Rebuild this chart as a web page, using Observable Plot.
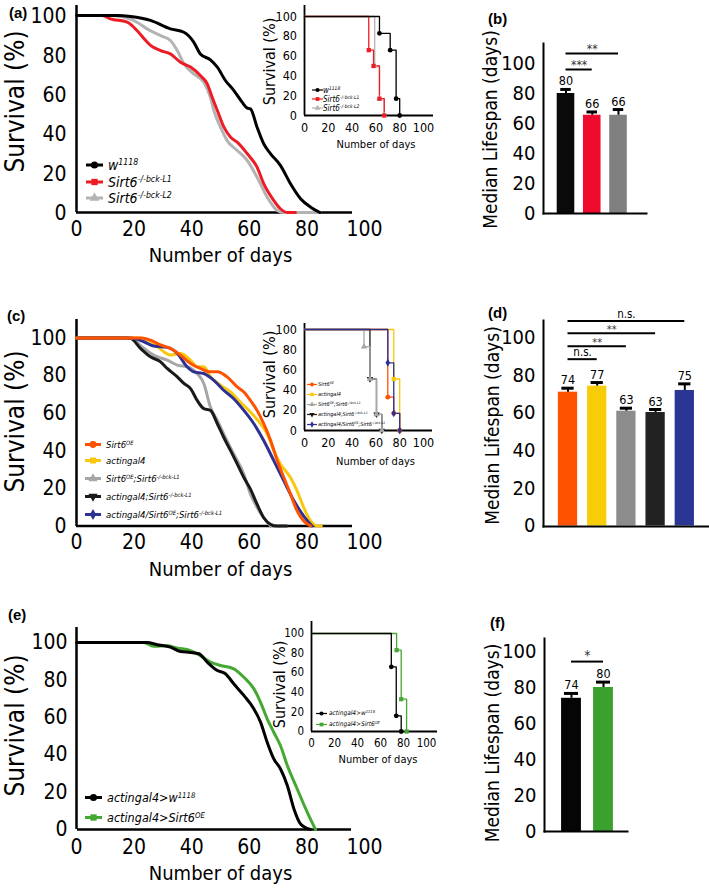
<!DOCTYPE html>
<html><head><meta charset="utf-8">
<script src="https://cdn.jsdelivr.net/npm/d3@7"></script>
<script src="https://cdn.jsdelivr.net/npm/@observablehq/plot@0.6"></script>
<style>
body{margin:0;background:#fff;}
#fig{position:relative;width:709px;height:890px;overflow:hidden;background:#fff;font-family:"DejaVu Sans Condensed","Liberation Sans Narrow",sans-serif;}
.plab{position:absolute;font-family:"Liberation Sans",Arial,sans-serif;font-weight:bold;font-size:15px;line-height:15px;}
.legrow{position:absolute;display:flex;align-items:center;font-style:italic;white-space:nowrap;}
.legrow sup{font-size:0.62em;vertical-align:0.55em;line-height:0;}
</style></head><body><div id="fig"></div>
<script>
// ---------- data ----------
const xTicks = [0, 20, 40, 60, 80, 100];
const yTicks = [0, 20, 40, 60, 80, 100];

// (a) survival curves [day, % survival]
const a_w1118 = [[0,100],[14,100],[18.8,99.5],[25.7,97.5],[32.6,93.2],[37.3,91.5],[40.7,86.5],[43,80.5],[46.5,77.5],[48.9,73.8],[51.7,67],[54.6,62],[57.5,56],[59.3,53],[60.4,52.6],[62.7,43.3],[65,34.9],[67.4,29.8],[70.8,23.9],[74.3,14.6],[77.8,7],[81.3,2.7],[84.5,0]];
const a_L1 = [[0,100],[9,100],[11.8,98.3],[17.6,96.6],[21,92.4],[24,87.3],[25.7,84.8],[29.2,82.2],[32.6,80.5],[36.1,76.3],[39.6,73.8],[43,69.5],[45.4,65.3],[47.1,58.5],[48.9,51.8],[51.2,43.3],[53.5,38.2],[55.8,35.7],[59.3,29.8],[62.7,23],[65,14.6],[68.5,6.1],[70.8,1.9],[73.2,0],[76,0]];
const a_L2 = [[0,100],[11.8,100],[16.4,99.2],[21,96.6],[24.5,93.2],[29.2,89.8],[32.6,87.3],[35,82.2],[37.3,75.5],[40.7,70.4],[44.2,66.1],[46.5,58.5],[47.7,51.8],[50,43.3],[52.3,36.5],[55.8,31.5],[59.3,26.4],[62.7,17.9],[66.2,7.8],[69.7,1],[72,0],[84.5,0]];
const a_names = ["<i>w</i><sup>1118</sup>", "Sirt6<sup>-/-bck-L1</sup>", "Sirt6<sup>-/-bck-L2</sup>"];
const a_colors = ["#000000", "#ed1c24", "#b3b3b3"];
// (a) inset, Kaplan-Meier steps
const ia_w1118 = [[0,100],[63,83],[72,66],[77,17],[80,0]];
const ia_L1 = [[0,100],[54,66],[58,50],[63,17],[67,0]];
const ia_L2 = [[0,100],[59,50],[63,17],[67,0]];

// (b) median lifespan
const b_median = [80, 65.5, 65.5];
const b_sem = [2.7, 2.2, 3.8];
const b_text = ["80", "66", "66"];
const b_colors = ["#0a0a0a", "#f00a2e", "#808080"];
const b_sigFrom = [0, 0], b_sigTo = [1, 2], b_sigLevel = [96, 106.7], b_sigText = ["***", "**"];

// (c) survival curves
const c_OE = [[0,100],[20,100],[22.2,100],[25.7,98.9],[29.2,96.3],[32.6,94.5],[36.1,90.9],[39.6,86.5],[43,83.8],[46.5,82],[48.9,82],[52.3,79.3],[55.8,74],[58.1,71.3],[60.4,66.8],[62.7,61.5],[65,54.4],[67.4,45.5],[69.7,34.8],[72,25.8],[74.3,17],[76.6,8],[78.9,2.7],[81.3,0]];
const c_gal4 = [[0,100],[21,100],[22.2,100],[26.8,97.2],[30.3,92.7],[32.6,90.9],[36.1,91.8],[39.6,88.2],[41.9,84.7],[44.2,84.7],[46.5,79.3],[50,74.9],[53.5,71.3],[56.9,65.9],[60.4,60.6],[63.9,54.4],[66.2,49],[68.5,40.1],[70.8,33],[74.3,25.8],[76.6,18.7],[78.9,9.8],[81.3,2.7],[83.6,0],[85,0]];
const c_OEko = [[0,100],[17,100],[18.8,99.8],[23.4,94.5],[26.8,90.9],[31.5,88.2],[35,85.6],[38.4,84.7],[41.9,81.1],[44.2,75.8],[46.5,63.3],[48.9,56.1],[51.1,49],[54.6,38.3],[58.1,27.6],[60.4,17],[62.7,9.8],[65,4.4],[67.4,0]];
const c_gal4ko = [[0,100],[17,100],[18.8,99.8],[22.2,94.5],[25.7,90],[29.2,87.3],[31.5,83.8],[35,79.3],[37.3,75.8],[39.6,73.1],[41.9,66.8],[44.2,62.4],[46.5,61.5],[48.9,54.4],[51.1,47.2],[53.5,40.1],[55.8,33],[58.1,25.8],[60.4,19.6],[62.7,11.6],[65,4.4],[67.4,0.9],[69.7,0],[73,0]];
const c_rescue = [[0,100],[18.8,100],[23.4,98],[26.8,95.7],[31.5,95],[35,91.8],[38.4,84.7],[40.7,82],[44.2,81.1],[47.7,77.5],[51.1,72.2],[54.6,67.7],[58.1,61.5],[61.6,54.4],[65,45.5],[68.5,34.8],[72,24],[75.5,13.4],[78.9,5.3],[81.8,0]];
const c_names = ["Sirt6<sup>OE</sup>", "actingal4", "Sirt6<sup>OE</sup>;Sirt6<sup>-/-bck-L1</sup>", "actingal4;Sirt6<sup>-/-bck-L1</sup>", "actingal4/Sirt6<sup>OE</sup>;Sirt6<sup>-/-bck-L1</sup>"];
const c_colors = ["#ff5200", "#f9c80e", "#a6a6a6", "#1a1a1a", "#2e3192"];
// (c) inset
const ic_OE = [[0,100],[70,33],[75,17],[80,0]];
const ic_gal4 = [[0,100],[75,51],[80,0]];
const ic_OEko = [[0,100],[50,83],[55,51],[60.5,16],[65,0]];
const ic_gal4ko = [[0,100],[55,51],[60.5,16],[65,0]];
const ic_rescue = [[0,100],[70,67],[75,17],[80,0]];

// (d) median lifespan
const d_median = [71, 74.2, 60.9, 60.2, 71.9];
const d_sem = [2.1, 1.9, 1.6, 1.6, 3.5];
const d_text = ["74", "77", "63", "63", "75"];
const d_colors = ["#ff5200", "#f7cd07", "#8c8c8c", "#222222", "#2b3594"];
const d_sigFrom = [0, 0, 0, 0], d_sigTo = [1, 2, 3, 4], d_sigLevel = [88.5, 95.4, 102.3, 108.7], d_sigText = ["n.s.", "**", "**", "n.s."];

// (e) survival curves
const e_ctrl = [[0,100],[22.2,100],[24.5,100],[28,98.8],[32.6,97.5],[36.1,95.2],[39.6,94.7],[42.5,94],[45.4,89.5],[48.9,85],[51.7,83.3],[54.6,77.9],[58.1,71.7],[61.6,64.5],[63.9,57.4],[66.2,46.7],[68.5,37.8],[70.8,32.5],[73.2,23.5],[75.5,11],[77.8,3],[81.3,0]];
const e_OE = [[0,100],[21,100],[23.4,100],[26.8,98],[31.5,98.2],[35,97],[39.6,95.7],[43,93],[46.5,89.5],[50,87.7],[54.6,85.9],[58.1,81.4],[61.6,75.2],[63.9,68],[66.2,59.2],[68.5,52],[70.8,44.9],[73.2,34.2],[76.6,21.8],[80.1,9.3],[83,0]];
const e_names = ["actingal4&gt;<i>w</i><sup>1118</sup>", "actingal4&gt;Sirt6<sup>OE</sup>"];
const e_colors = ["#000000", "#45a832"];
// (e) inset
const ie_ctrl = [[0,100],[69.4,66],[73.7,16],[78,0]];
const ie_OE = [[0,100],[74,83],[78,33],[82.7,0]];

// (f) median lifespan
const f_median = [74, 80];
const f_sem = [2.7, 3];
const f_text = ["74", "80"];
const f_colors = ["#050505", "#3aa12e"];
const f_sigFrom = [0], f_sigTo = [1], f_sigLevel = [94.4], f_sigText = ["*"];

// ---------- drawing ----------
const fig = document.getElementById("fig");
const NARROW = '"DejaVu Sans Condensed","Liberation Sans Narrow",sans-serif';

function put(el, L, T) {
  el.style.position = "absolute";
  el.style.left = L + "px";
  el.style.top = T + "px";
  fig.appendChild(el);
}

function survival(c) {
  const marks = [
    Plot.ruleX([0], {strokeWidth: c.axisW}),
    Plot.ruleY([0], {strokeWidth: c.axisW}),
    Plot.axisX({ticks: xTicks, tickSize: 0, tickPadding: c.padX, fontSize: c.tickF, label: null}),
    Plot.axisY({ticks: yTicks, tickSize: 0, tickPadding: c.padY, fontSize: c.tickF, label: null, dy: c.tickDy || 0})
  ];
  for (const s of c.series) {
    marks.push(Plot.line(s.data, {x: d => d[0], y: d => d[1], stroke: s.color, strokeWidth: c.lineW, curve: c.step ? "step-after" : "monotone-x"}));
  }
  if (c.step) for (const s of c.series) {
    marks.push(Plot.dot(s.data.slice(1), {x: d => d[0], y: d => d[1], fill: s.color, symbol: s.symbol, r: c.r, rotate: s.rot || 0}));
  }
  marks.push(Plot.text([c.xTitle], {text: d => d, frameAnchor: "bottom", textAnchor: "middle", lineAnchor: "middle", dx: c.xTdx, dy: c.xTdy, fontSize: c.xTF}));
  marks.push(Plot.text([c.yTitle], {text: d => d, frameAnchor: "left", textAnchor: "middle", lineAnchor: "middle", rotate: -90, dx: c.yTdx, dy: c.yTdy, fontSize: c.yTF}));
  const svg = Plot.plot({
    width: c.W, height: c.H,
    marginLeft: c.fl - c.L, marginRight: c.L + c.W - c.fr,
    marginTop: c.ft - c.T, marginBottom: c.T + c.H - c.fb,
    x: {domain: [0, 100], range: [c.x0 - c.L, c.x100 - c.L]},
    y: {domain: [0, 100], range: [c.y0 - c.T, c.y100 - c.T]},
    style: {background: "transparent", overflow: "visible", fontFamily: NARROW, fontSize: c.tickF + "px", color: "black"},
    marks
  });
  put(svg, c.L, c.T);
}

function bars(c) {
  const idx = c.values.map((_, i) => i);
  const top = i => c.values[i] + c.sems[i];
  const sidx = c.sigFrom.map((_, i) => i);
  const marks = [
    Plot.rectY(idx, {x1: i => i - c.half, x2: i => i + c.half, y1: 0, y2: i => c.values[i], fill: i => c.colors[i]}),
    Plot.ruleX(idx, {x: i => i, y1: i => c.values[i], y2: top, strokeWidth: 2}),
    Plot.ruleY(idx, {x1: i => i - c.cap, x2: i => i + c.cap, y: top, strokeWidth: 3}),
    Plot.text(idx, {x: i => i, y: top, text: i => c.labels[i], dy: -8, fontSize: 12.5}),
    Plot.ruleY(sidx, {x1: i => c.sigFrom[i], x2: i => c.sigTo[i], y: i => c.sigLevel[i], strokeWidth: 2}),
    Plot.text(sidx.filter(i => c.sigText[i].includes("*")), {x: i => (c.sigFrom[i] + c.sigTo[i]) / 2, y: i => c.sigLevel[i], text: i => c.sigText[i], dy: c.starDy, fontSize: c.starF, fill: "#333"}),
    Plot.text(sidx.filter(i => !c.sigText[i].includes("*")), {x: i => (c.sigFrom[i] + c.sigTo[i]) / 2, y: i => c.sigLevel[i], text: i => c.sigText[i], dy: -7, fontSize: 11.5}),
    Plot.frame({anchor: "left", strokeWidth: 2}),
    Plot.frame({anchor: "bottom", strokeWidth: 2}),
    Plot.axisY({ticks: yTicks, tickSize: 0, tickPadding: 8, fontSize: 20, label: null}),
    Plot.text(["Median Lifespan (days)"], {text: d => d, frameAnchor: "left", textAnchor: "middle", lineAnchor: "middle", rotate: -90, dx: c.yTdx, dy: c.yTdy, fontSize: 19})
  ];
  const svg = Plot.plot({
    width: c.W, height: c.H,
    marginLeft: c.fl - c.L, marginRight: c.L + c.W - c.fr,
    marginTop: c.ft - c.T, marginBottom: c.T + c.H - c.fb,
    x: {domain: [0, c.values.length - 1], range: [c.x0 - c.L, c.xN - c.L], axis: null},
    y: {domain: [0, 100], range: [c.y0 - c.T, c.y100 - c.T]},
    style: {background: "transparent", overflow: "visible", fontFamily: NARROW, fontSize: "20px", color: "black"},
    marks
  });
  put(svg, c.L, c.T);
}

const SYM = {circle: d3.symbolCircle, square: d3.symbolSquare, triangle: d3.symbolTriangle, diamond: d3.symbolDiamond};
function legend(c) {
  c.items.forEach((it, k) => {
    const row = document.createElement("div");
    row.className = "legrow";
    row.style.left = c.x + "px";
    row.style.top = (c.ys[k] - c.font) + "px";
    row.style.height = (2 * c.font) + "px";
    row.style.fontSize = c.font + "px";
    const h = 2 * c.font;
    const sw = d3.create("svg").attr("width", c.sw).attr("height", h).style("overflow", "visible").style("margin-right", (c.tx - c.x - c.sw) + "px");
    sw.append("line").attr("x1", 0).attr("x2", c.sw).attr("y1", h / 2).attr("y2", h / 2).attr("stroke", it.color).attr("stroke-width", c.lineW);
    sw.append("path").attr("d", d3.symbol(SYM[it.symbol], c.size)()).attr("fill", it.color)
      .attr("transform", `translate(${c.sw / 2},${h / 2}) rotate(${it.rot || 0})`);
    row.appendChild(sw.node());
    const span = document.createElement("span");
    span.innerHTML = it.html;
    row.appendChild(span);
    fig.appendChild(row);
  });
}

function panelLabel(t, x, y) {
  const d = document.createElement("div");
  d.className = "plab";
  d.textContent = t;
  d.style.left = x + "px";
  d.style.top = y + "px";
  fig.appendChild(d);
}

// ---- (a) ----
const aSymbols = ["circle", "square", "triangle"];
survival({L: 0, T: 0, W: 372, H: 275, fl: 76, fr: 352, ft: 5, fb: 212, x0: 76, x100: 364, y0: 212, y100: 15,
  axisW: 2.5, lineW: 3, tickF: 21, padX: 8.7, padY: 10, tickDy: 1,
  xTitle: "Number of days", yTitle: "Survival (%)", xTF: 20, yTF: 26, xTdx: 6, xTdy: 43, yTdx: -61, yTdy: -7.5,
  series: [{data: a_L2, color: a_colors[2]}, {data: a_L1, color: a_colors[1]}, {data: a_w1118, color: a_colors[0]}]});
survival({L: 250, T: 0, W: 195, H: 155, fl: 304, fr: 433, ft: 5, fb: 115, x0: 304, x100: 423, y0: 115, y100: 16,
  axisW: 1.8, lineW: 1.3, tickF: 12.5, padX: 8, padY: 7.5, step: true, r: 2.4,
  xTitle: "Number of days", yTitle: "Survival (%)", xTF: 11, yTF: 16, xTdx: 7, xTdy: 29, yTdx: -35, yTdy: 1,
  series: [{data: ia_L2, color: a_colors[2], symbol: "triangle"}, {data: ia_L1, color: a_colors[1], symbol: "square"}, {data: ia_w1118, color: a_colors[0], symbol: "circle"}]});
legend({x: 86, ys: [165, 182, 198], sw: 17, tx: 108, font: 14, lineW: 3, size: 40,
  items: a_names.map((h, i) => ({html: h, color: a_colors[i], symbol: aSymbols[i]}))});
legend({x: 312, ys: [90, 99, 108], sw: 11, tx: 323, font: 8, lineW: 1.2, size: 14,
  items: a_names.map((h, i) => ({html: h, color: a_colors[i], symbol: aSymbols[i]}))});

// ---- (b) ----
bars({L: 470, T: 0, W: 239, H: 240, fl: 543, fr: 646, ft: 43, fb: 213, x0: 565.5, xN: 618, y0: 213, y100: 63,
  values: b_median, sems: b_sem, labels: b_text, colors: b_colors, half: 0.335, cap: 0.2,
  sigFrom: b_sigFrom, sigTo: b_sigTo, sigLevel: b_sigLevel, sigText: b_sigText, starDy: -4, starF: 12,
  yTdx: -53, yTdy: 1});

// ---- (c) ----
const cSymbols = ["circle", "square", "triangle", "triangle", "diamond"];
const cRot = [0, 0, 0, 180, 0];
survival({L: 0, T: 300, W: 372, H: 290, fl: 76, fr: 352, ft: 319, fb: 526, x0: 76, x100: 364, y0: 525.5, y100: 337.5,
  axisW: 2.5, lineW: 3, tickF: 21, padX: 8, padY: 10, tickDy: 0,
  xTitle: "Number of days", yTitle: "Survival (%)", xTF: 20, yTF: 26, xTdx: 6, xTdy: 43, yTdx: -61, yTdy: -1.5,
  series: [{data: c_OEko, color: c_colors[2]}, {data: c_gal4ko, color: c_colors[3]}, {data: c_gal4, color: c_colors[1]}, {data: c_rescue, color: c_colors[4]}, {data: c_OE, color: c_colors[0]}]});
survival({L: 250, T: 300, W: 195, H: 175, fl: 304, fr: 432, ft: 323, fb: 430, x0: 304, x100: 423, y0: 430, y100: 329,
  axisW: 1.8, lineW: 1.3, tickF: 12.5, padX: 8, padY: 7.5, step: true, r: 2.4,
  xTitle: "Number of days", yTitle: "Survival (%)", xTF: 11, yTF: 16, xTdx: 7, xTdy: 31, yTdx: -35, yTdy: -2.5,
  series: [{data: ic_gal4, color: c_colors[1], symbol: "square"}, {data: ic_OE, color: c_colors[0], symbol: "circle"}, {data: ic_gal4ko, color: c_colors[3], symbol: "triangle", rot: 180}, {data: ic_OEko, color: c_colors[2], symbol: "triangle"}, {data: ic_rescue, color: c_colors[4], symbol: "diamond"}]});
legend({x: 85, ys: [444, 460, 478, 496, 514], sw: 16, tx: 106, font: 9.5, lineW: 3, size: 36,
  items: c_names.map((h, i) => ({html: h, color: c_colors[i], symbol: cSymbols[i], rot: cRot[i]}))});
legend({x: 307, ys: [384, 394, 404, 414, 424], sw: 10, tx: 318, font: 5.5, lineW: 1.2, size: 12,
  items: c_names.map((h, i) => ({html: h, color: c_colors[i], symbol: cSymbols[i], rot: cRot[i]}))});

// ---- (d) ----
bars({L: 470, T: 300, W: 239, H: 240, fl: 543, fr: 708, ft: 320, fb: 526, x0: 567.5, xN: 684.3, y0: 525.5, y100: 337,
  values: d_median, sems: d_sem, labels: d_text, colors: d_colors, half: 0.33, cap: 0.21,
  sigFrom: d_sigFrom, sigTo: d_sigTo, sigLevel: d_sigLevel, sigText: d_sigText, starDy: -4, starF: 11,
  yTdx: -51, yTdy: 2});

// ---- (e) ----
const eSymbols = ["circle", "square"];
survival({L: 0, T: 600, W: 372, H: 290, fl: 77, fr: 351, ft: 627, fb: 829, x0: 76, x100: 364, y0: 829, y100: 642,
  axisW: 2.5, lineW: 3, tickF: 21, padX: 9.4, padY: 10, tickDy: 0,
  xTitle: "Number of days", yTitle: "Survival (%)", xTF: 20, yTF: 26, xTdx: 6, xTdy: 44, yTdx: -62, yTdy: -3,
  series: [{data: e_OE, color: e_colors[1]}, {data: e_ctrl, color: e_colors[0]}]});
survival({L: 255, T: 600, W: 195, H: 175, fl: 311, fr: 437, ft: 621, fb: 731, x0: 311, x100: 426, y0: 731, y100: 633,
  axisW: 1.8, lineW: 1.3, tickF: 11.5, padX: 7.6, padY: 7.5, step: true, r: 2.4,
  xTitle: "Number of days", yTitle: "Survival (%)", xTF: 11, yTF: 16, xTdx: 3.5, xTdy: 28, yTdx: -32, yTdy: 8,
  series: [{data: ie_OE, color: e_colors[1], symbol: "square"}, {data: ie_ctrl, color: e_colors[0], symbol: "circle"}]});
legend({x: 85, ys: [797, 817], sw: 17, tx: 107, font: 12.5, lineW: 3, size: 40,
  items: e_names.map((h, i) => ({html: h, color: e_colors[i], symbol: eSymbols[i]}))});
legend({x: 316, ys: [713, 724], sw: 11, tx: 329, font: 6.5, lineW: 1.2, size: 14,
  items: e_names.map((h, i) => ({html: h, color: e_colors[i], symbol: eSymbols[i]}))});

// ---- (f) ----
bars({L: 470, T: 600, W: 239, H: 250, fl: 544, fr: 627, ft: 638, fb: 831, x0: 571, xN: 603, y0: 831, y100: 651,
  values: f_median, sems: f_sem, labels: f_text, colors: f_colors, half: 0.31, cap: 0.22,
  sigFrom: f_sigFrom, sigTo: f_sigTo, sigLevel: f_sigLevel, sigText: f_sigText, starDy: -6, starF: 14,
  yTdx: -52, yTdy: 8});

// panel labels
panelLabel("(a)", 9, 5);
panelLabel("(b)", 488, 11);
panelLabel("(c)", 7, 308);
panelLabel("(d)", 488, 305);
panelLabel("(e)", 8, 607);
panelLabel("(f)", 490, 615);
</script></body></html>
